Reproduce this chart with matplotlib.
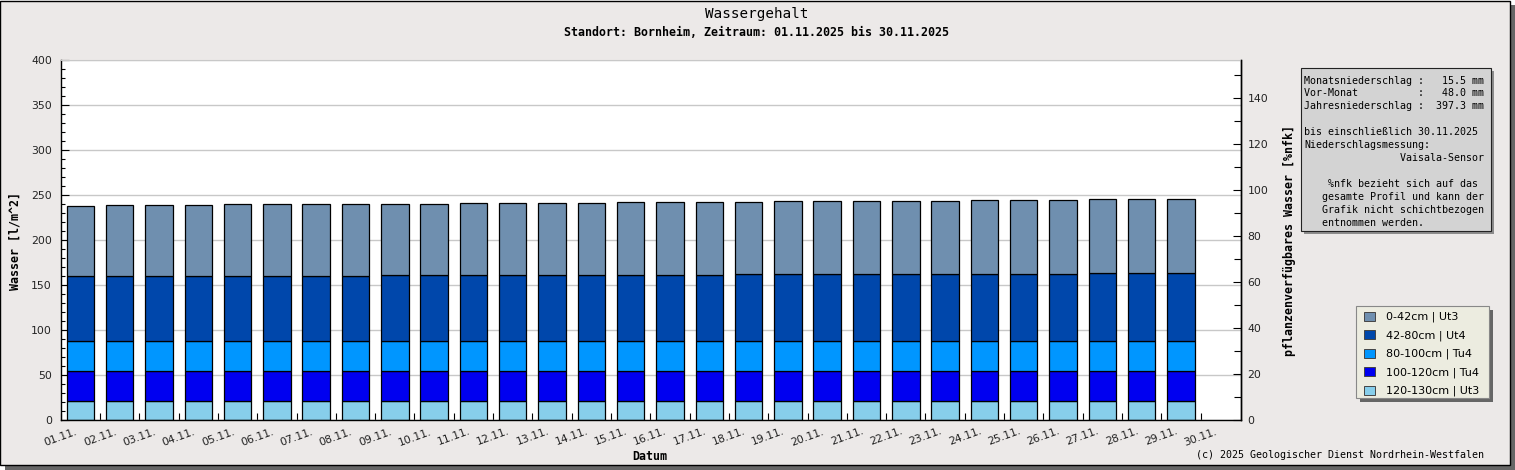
import matplotlib.pyplot as plt
from matplotlib.patches import Rectangle, Patch
from matplotlib.ticker import MultipleLocator
import numpy as np

# figure size in pixels
W, H = 1515, 470

def fx(x):
    return x / W

def fy(y):
    return 1 - y / H

# tick labels (one per day boundary)
day_labels = ['01.11.', '02.11.', '03.11.', '04.11.', '05.11.', '06.11.', '07.11.', '08.11.',
              '09.11.', '10.11.', '11.11.', '12.11.', '13.11.', '14.11.', '15.11.', '16.11.',
              '17.11.', '18.11.', '19.11.', '20.11.', '21.11.', '22.11.', '23.11.', '24.11.',
              '25.11.', '26.11.', '27.11.', '28.11.', '29.11.', '30.11.']

# water per layer [l/m^2], one value per day 01.11. - 29.11.
layer_120_130 = [21.5, 21.5, 21.5, 21.5, 21.5, 21.5, 21.5, 21.5, 21.5, 21.5, 21.5, 21.5, 21.5, 21.5, 21.5,
                 21.5, 21.5, 21.5, 21.5, 21.5, 21.5, 21.5, 21.5, 21.5, 21.5, 21.5, 21.5, 21.5, 21.5]
layer_100_120 = [33.3, 33.3, 33.3, 33.3, 33.3, 33.3, 33.3, 33.3, 33.3, 33.3, 33.3, 33.3, 33.3, 33.3, 33.3,
                 33.3, 33.3, 33.3, 33.3, 33.3, 33.3, 33.3, 33.3, 33.3, 33.3, 33.3, 33.3, 33.3, 33.3]
layer_80_100 = [33.3, 33.3, 33.3, 33.3, 33.3, 33.3, 33.3, 33.3, 33.3, 33.3, 33.3, 33.3, 33.3, 33.3, 33.3,
                33.3, 33.3, 33.3, 33.3, 33.3, 33.3, 33.3, 33.3, 33.3, 33.3, 33.3, 33.3, 33.3, 33.3]
layer_42_80 = [71.5, 71.5, 71.5, 71.5, 71.5, 71.5, 71.5, 71.5, 72.6, 72.6, 72.6, 72.6, 72.6, 72.6, 72.6,
               72.6, 72.6, 73.8, 73.8, 73.8, 73.8, 73.8, 73.8, 73.8, 73.8, 73.8, 74.9, 74.9, 74.9]
layer_0_42 = [78.2, 79.3, 79.3, 79.3, 80.4, 80.4, 80.4, 80.4, 79.3, 79.3, 80.4, 80.4, 80.4, 80.4, 81.5,
              81.5, 81.5, 80.3, 81.2, 81.2, 81.2, 81.2, 81.2, 82.3, 82.3, 82.3, 82.3, 82.3, 82.3]

# bottom to top
layers = [layer_120_130, layer_100_120, layer_80_100, layer_42_80, layer_0_42]
layer_names = ['120-130cm | Ut3', '100-120cm | Tu4', '80-100cm | Tu4', '42-80cm | Ut4', '0-42cm | Ut3']
layer_colors = ['#87CEEB', '#0000F0', '#0096FF', '#0047AB', '#6F8FAF']

info_text = ("Monatsniederschlag :   15.5 mm\n"
             "Vor-Monat          :   48.0 mm\n"
             "Jahresniederschlag :  397.3 mm\n"
             "\n"
             "bis einschließlich 30.11.2025\n"
             "Niederschlagsmessung:\n"
             "                Vaisala-Sensor\n"
             "\n"
             "    %nfk bezieht sich auf das\n"
             "   gesamte Profil und kann der\n"
             "   Grafik nicht schichtbezogen\n"
             "   entnommen werden.")

bg = '#ECE9E8'
mono = 'DejaVu Sans Mono'

fig = plt.figure(figsize=(W / 100, H / 100), dpi=100)
fig.patch.set_facecolor('white')

# frame with drop shadow
fig.add_artist(Rectangle((fx(5), 0), fx(1510), 465 / H, transform=fig.transFigure,
                         facecolor='#666666', edgecolor='none', zorder=-2))
fig.add_artist(Rectangle((0, 5 / H), fx(1510), 465 / H - 1 / H, transform=fig.transFigure,
                         facecolor=bg, edgecolor='black', linewidth=1.0, zorder=-1))

ax = fig.add_axes([fx(60.7), fy(420), fx(1240.7) - fx(60.7), fy(60) - fy(420)])
ax.set_facecolor('white')
ax.set_axisbelow(True)

x = np.arange(len(layer_0_42)) + 0.5
bottom = np.zeros(len(x))
for vals, name, col in zip(layers, layer_names, layer_colors):
    ax.bar(x, vals, width=0.70, bottom=bottom, color=col, edgecolor='black',
           linewidth=0.9, label=name)
    bottom = bottom + np.array(vals)

ax.set_xlim(0, 30.02)
ax.set_ylim(0, 400)
ax.set_xticks(np.arange(len(day_labels)))
ax.set_xticklabels(day_labels, rotation=20, ha='center')
ax.yaxis.set_major_locator(MultipleLocator(50))
ax.yaxis.set_minor_locator(MultipleLocator(10))
ax.grid(axis='y', color='#C8C8C8', linewidth=1.0)
ax.tick_params(axis='x', direction='in', length=5, width=0.8, labelsize=7.8, pad=4.5,
               colors='black', labelcolor='#222222')
ax.tick_params(axis='y', which='major', direction='in', length=6, width=0.8, labelsize=7.8,
               pad=6.3, labelcolor='#222222')
ax.tick_params(axis='y', which='minor', direction='in', length=3, width=0.8)
ax.spines['top'].set_color('#C8C8C8')
for s in ['left', 'right', 'bottom']:
    ax.spines[s].set_color('black')
    ax.spines[s].set_linewidth(1.0)

ax2 = ax.twinx()
ax2.set_ylim(0, 156.5)
ax2.yaxis.set_major_locator(MultipleLocator(20))
ax2.yaxis.set_minor_locator(MultipleLocator(10))
ax2.set_yticks(np.arange(0, 141, 20))
ax2.tick_params(axis='y', which='major', direction='in', length=6, width=0.8, labelsize=7.8,
                pad=5, labelcolor='#222222')
ax2.tick_params(axis='y', which='minor', direction='in', length=5, width=0.8)
ax2.spines['top'].set_visible(False)
ax2.spines['left'].set_visible(False)
ax2.spines['bottom'].set_visible(False)
ax2.spines['right'].set_linewidth(1.0)

# titles and axis labels
fig.text(fx(757), fy(14), 'Wassergehalt', ha='center', va='center', family=mono, fontsize=10.3)
fig.text(fx(757), fy(33), 'Standort: Bornheim, Zeitraum: 01.11.2025 bis 30.11.2025',
         ha='center', va='center', family=mono, fontsize=8.4, fontweight='bold')
fig.text(fx(15), fy(241), 'Wasser [l/m^2]', rotation=90, ha='center', va='center',
         family=mono, fontsize=8.4, fontweight='bold')
fig.text(fx(1289), fy(240), 'pflanzenverfügbares Wasser [%nfk]', rotation=90, ha='center',
         va='center', family=mono, fontsize=8.4, fontweight='bold')
fig.text(fx(650), fy(457), 'Datum', ha='center', va='center', family=mono, fontsize=8.4,
         fontweight='bold')
fig.text(fx(1484), fy(455), '(c) 2025 Geologischer Dienst Nordrhein-Westfalen', ha='right',
         va='center', family=mono, fontsize=7.2)

# info box
fig.add_artist(Rectangle((fx(1304), fy(234)), 190 / W, 163 / H, transform=fig.transFigure,
                         facecolor='#8C8C8C', edgecolor='none', zorder=2))
fig.add_artist(Rectangle((fx(1301), fy(231)), 190 / W, 163 / H, transform=fig.transFigure,
                         facecolor='#D3D3D3', edgecolor='#222222', linewidth=0.8, zorder=3))
fig.text(fx(1304), fy(75.5), info_text, ha='left', va='top', family=mono, fontsize=7.2,
         linespacing=1.373, zorder=4)

# legend box (frame drawn separately so the padding can match)
fig.add_artist(Rectangle((fx(1360), fy(402)), 133 / W, 92 / H, transform=fig.transFigure,
                         facecolor='#666666', edgecolor='none', zorder=4))
fig.add_artist(Rectangle((fx(1356), fy(398)), 133 / W, 92 / H, transform=fig.transFigure,
                         facecolor='#ECECE0', edgecolor='#888888', linewidth=0.8, zorder=5))

handles = [Patch(facecolor=c, edgecolor='#444444', linewidth=0.7) for c in layer_colors[::-1]]
leg = fig.legend(handles, layer_names[::-1], loc='upper left',
                 bbox_to_anchor=(fx(1364), fy(311.5)), bbox_transform=fig.transFigure,
                 borderaxespad=0, borderpad=0, frameon=False, fontsize=8,
                 handlelength=0.95, handleheight=0.9, handletextpad=1.05, labelspacing=0.68)
leg.set_zorder(6)

fig.savefig('out.png', dpi=100, facecolor=fig.get_facecolor())
